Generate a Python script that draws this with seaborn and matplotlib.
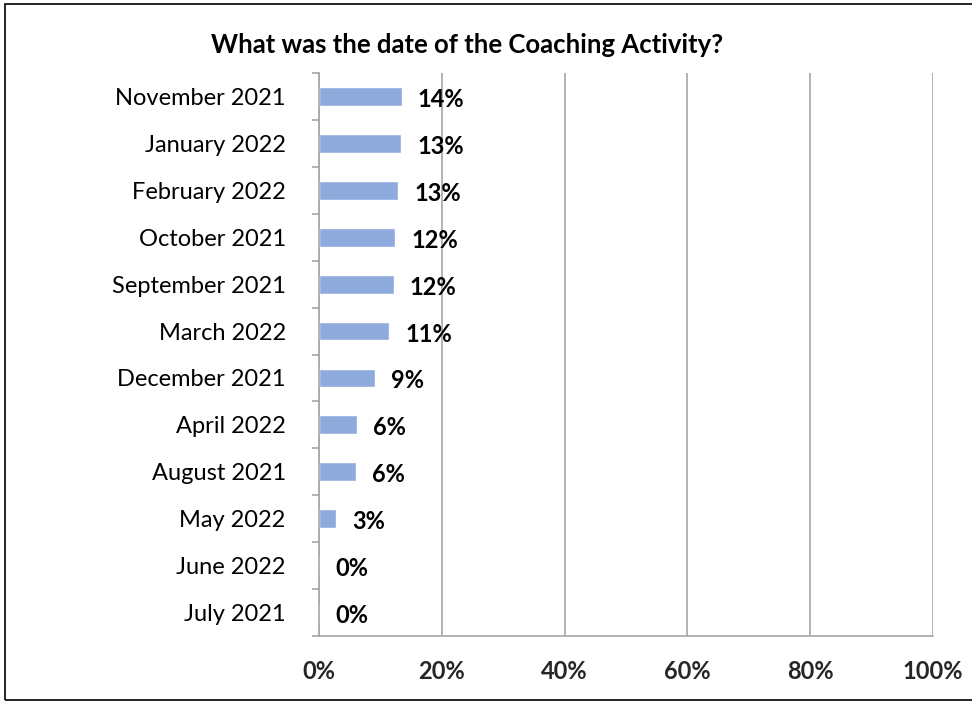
import matplotlib
matplotlib.use("Agg")
import matplotlib.pyplot as plt
import seaborn as sns
import pandas as pd
from matplotlib.patches import Rectangle
from matplotlib.ticker import FuncFormatter, MultipleLocator, FixedLocator

categories = ["November 2021", "January 2022", "February 2022", "October 2021",
              "September 2021", "March 2022", "December 2021", "April 2022",
              "August 2021", "May 2022", "June 2022", "July 2021"]
values = [13.5, 13.4, 12.9, 12.4, 12.2, 11.4, 9.1, 6.2, 6.0, 2.8, 0.0, 0.0]
labels = ["14%", "13%", "13%", "12%", "12%", "11%", "9%", "6%", "6%", "3%", "0%", "0%"]
title = "What was the date of the Coaching Activity?"

df = pd.DataFrame({"month": categories, "pct": values})

sns.set_theme(style="white")
plt.rcParams["font.family"] = ["Lato", "DejaVu Sans"]

fig = plt.figure(figsize=(9.72, 7.04), dpi=100)
ax = fig.add_axes([319/972, 1 - 636/704, (933-319)/972, (636-73)/704])

sns.barplot(data=df, y="month", x="pct", color="#8FAADC", width=0.4,
            orient="h", ax=ax, saturation=1)

ax.set_xlim(0, 100)
ax.set_ylim(len(categories) - 0.5, -0.5)
ax.xaxis.set_major_locator(MultipleLocator(20))
ax.xaxis.set_major_formatter(FuncFormatter(lambda v, p: f"{int(v)}%"))
ax.grid(axis="x", color="#A6A6A6", linewidth=1.2)
ax.set_axisbelow(True)
ax.set_xlabel("")
ax.set_ylabel("")

for s in ["top", "right"]:
    ax.spines[s].set_visible(False)
for s in ["left", "bottom"]:
    ax.spines[s].set_color("#A6A6A6")
    ax.spines[s].set_linewidth(1.2)

ax.tick_params(axis="x", which="major", length=5, width=1.2, color="#A6A6A6",
               direction="out", pad=12, labelsize=17)
for t in ax.get_xticklabels():
    t.set_fontweight("bold")

ax.yaxis.set_major_locator(FixedLocator(range(len(categories))))
ax.set_yticklabels(categories)
ax.tick_params(axis="y", which="major", length=0, pad=24, labelsize=17,
               labelcolor="#000000")
for t in ax.get_yticklabels():
    t.set_y(t.get_position()[1])
ax.yaxis.set_minor_locator(FixedLocator([i - 0.5 for i in range(len(categories) + 1)]))
ax.tick_params(axis="y", which="minor", length=5, width=1.2, color="#A6A6A6",
               direction="out", left=True)

for i, (v, lab) in enumerate(zip(values, labels)):
    ax.annotate(lab, (v, i), xytext=(16, -3), textcoords="offset pixels",
                va="center", ha="left",
                fontsize=17, fontweight="bold", color="black")

fig.text(467/972, 1 - 45/704, title, ha="center", va="center",
         fontsize=18.5, fontweight="bold", color="black")

fig.patches.append(Rectangle((5/972, 4/704), 1.2, 1 - 8/704, transform=fig.transFigure,
                             fill=False, edgecolor="#000000", linewidth=1.2))

fig.savefig("out.png", dpi=100)
